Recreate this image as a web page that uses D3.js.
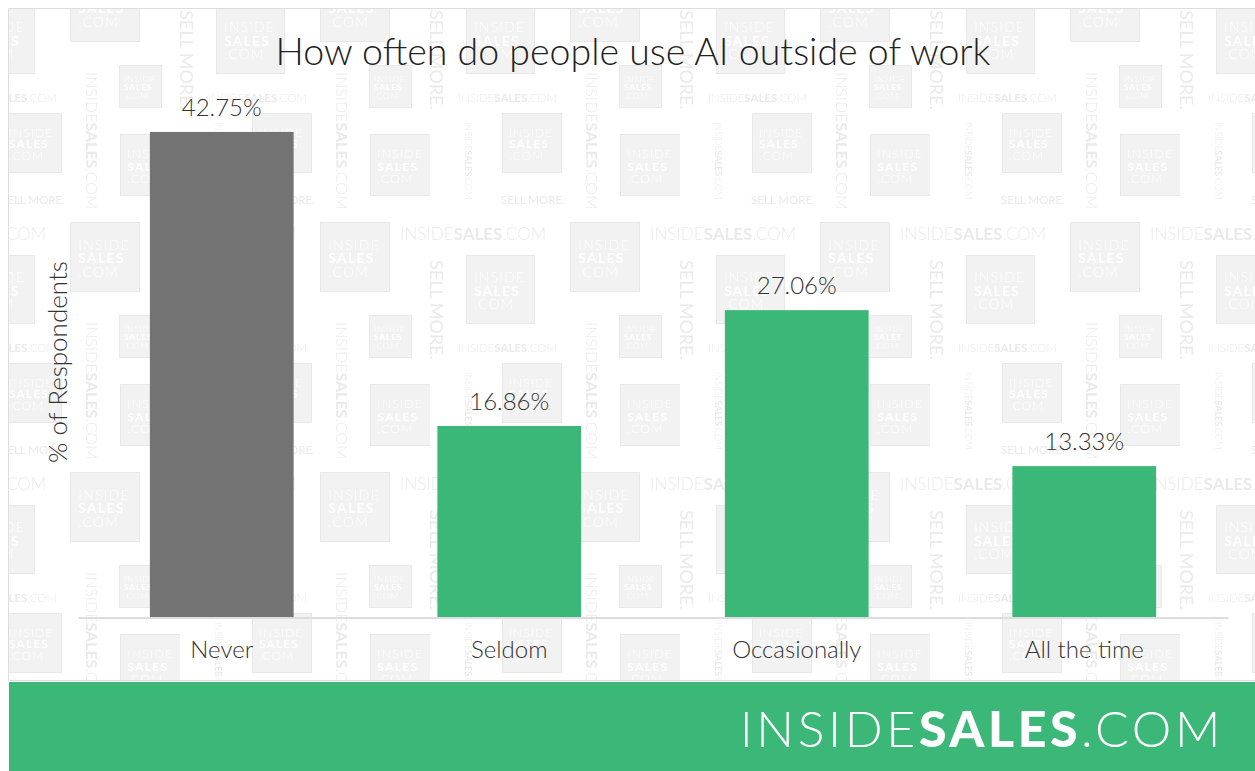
<!DOCTYPE html>
<html lang="en">
<head>
  <meta charset="UTF-8">
  <title>AI outside of work</title>
  <style>
    body { margin: 0; background: #fff; }
    svg { display: block; }
  </style>
</head>
<body>
  <svg width="1255" height="771"></svg>
  <script src="https://d3js.org/d3.v7.min.js"></script>
  <script>
    // chart data
    var categories = ["Never", "Seldom", "Occasionally", "All the time"];
    var values = [42.75, 16.86, 27.06, 13.33];
    var barColors = ["#737373", "#3bb878", "#3bb878", "#3bb878"];
    var titleText = "How often do people use AI outside of work";
    var yLabel = "% of Respondents";

    var svg = d3.select("svg"),
      W = 1255, H = 771;

    // watermark tile (background decoration)
    var defs = svg.append("defs");
    var tile = defs.append("pattern")
      .attr("id", "wm")
      .attr("patternUnits", "userSpaceOnUse")
      .attr("x", 180).attr("y", 0)
      .attr("width", 250).attr("height", 250);

    var wmGray = "#eaeaea";
    function box(x, y, s) {
      tile.append("rect")
        .attr("x", x + 0.5).attr("y", y + 0.5)
        .attr("width", s).attr("height", s)
        .attr("fill", "#f2f2f2").attr("stroke", "#e8e8e8");
      var fs = s * 0.2;
      var t = tile.append("g")
        .style("font-family", "Lato").style("font-size", fs + "px")
        .style("letter-spacing", (fs * 0.1) + "px")
        .attr("fill", "#ffffff");
      t.append("text").attr("x", x + s * 0.12).attr("y", y + s * 0.4)
        .style("font-weight", 300).text("INSIDE");
      t.append("text").attr("x", x + s * 0.12).attr("y", y + s * 0.6)
        .style("font-weight", 700).text("SALES");
      t.append("text").attr("x", x + s * 0.12).attr("y", y + s * 0.8)
        .style("font-weight", 300).text(".COM");
    }
    function word(x, y, size, rot, kind) {
      var t = tile.append("text")
        .attr("transform", "translate(" + x + "," + y + ")" + (rot ? "rotate(90)" : ""))
        .style("font-family", "Lato").style("font-size", size + "px")
        .attr("fill", wmGray);
      if (kind === "sell") {
        t.style("font-weight", 400).text("SELL MORE.");
      } else {
        t.append("tspan").style("font-weight", 300).text("INSIDE");
        t.append("tspan").style("font-weight", 700).text("SALES");
        t.append("tspan").style("font-weight", 300).text(".COM");
      }
    }
    box(36, 5, 68);
    box(140, 222, 69);
    box(140, -28, 69);
    box(189, 65, 42);
    box(72, 113, 59);
    box(190, 134, 61);
    word(0, 10, 18, true, "sell");
    word(28, 102, 11.5, false);
    word(156, 72, 16, true);
    word(35, 122, 9, true);
    word(71, 204, 11.5, false, "sell");
    word(220, 240, 17, false);
    word(-30, 240, 17, false);

    svg.append("rect")
      .attr("x", 9).attr("y", 9)
      .attr("width", W - 9).attr("height", 671)
      .attr("fill", "url(#wm)");
    svg.append("path")
      .attr("d", "M8.5," + 680 + "V8.5H" + W)
      .attr("fill", "none").attr("stroke", "#dddddd");
    svg.append("line")
      .attr("x1", 8).attr("x2", W).attr("y1", 680.5).attr("y2", 680.5)
      .attr("stroke", "#dddddd");

    // scales
    var x = d3.scaleBand()
      .domain(categories)
      .range([78, 1228])
      .paddingInner(0.5)
      .paddingOuter(0.25);
    var y = d3.scaleLinear()
      .domain([0, 45])
      .range([617.5, 106.4]);

    // bars
    svg.append("g")
      .selectAll("rect")
      .data(values)
      .enter()
      .append("rect")
      .attr("x", function (d, i) { return x(categories[i]); })
      .attr("y", function (d) { return y(d); })
      .attr("width", x.bandwidth())
      .attr("height", function (d) { return y(0) - y(d); })
      .attr("fill", function (d, i) { return barColors[i]; });

    // baseline + category labels
    var xAxis = svg.append("g")
      .attr("transform", "translate(0," + y(0) + ")")
      .call(d3.axisBottom(x).tickSize(0).tickPadding(23));
    xAxis.select(".domain")
      .attr("stroke", "#dddddd").attr("stroke-width", 2);
    xAxis.selectAll("text")
      .style("font-family", "Lato").style("font-weight", 300)
      .style("font-size", "24px").attr("fill", "#333333");

    // value labels
    svg.append("g")
      .selectAll("text")
      .data(values)
      .enter()
      .append("text")
      .attr("x", function (d, i) { return x(categories[i]) + x.bandwidth() / 2; })
      .attr("y", function (d) { return y(d) - 16; })
      .attr("text-anchor", "middle")
      .style("font-family", "Lato").style("font-weight", 300)
      .style("font-size", "24px").attr("fill", "#333333")
      .text(function (d) { return d.toFixed(2) + "%"; });

    // title
    svg.append("text")
      .attr("x", 633).attr("y", 65)
      .attr("text-anchor", "middle")
      .style("font-family", "Lato").style("font-weight", 300)
      .style("font-size", "37.5px").attr("fill", "#222222")
      .text(titleText);

    // y label
    svg.append("text")
      .attr("transform", "translate(67,362)rotate(-90)")
      .attr("text-anchor", "middle")
      .style("font-family", "Lato").style("font-weight", 300)
      .style("font-size", "26px").attr("fill", "#333333")
      .text(yLabel);

    // footer band with logo
    svg.append("rect")
      .attr("x", 9).attr("y", 682)
      .attr("width", W - 9).attr("height", H - 682)
      .attr("fill", "#3bb878");
    var logo = svg.append("text")
      .attr("x", 1224).attr("y", 747)
      .attr("text-anchor", "end")
      .style("font-family", "Lato")
      .style("font-size", "50px")
      .style("letter-spacing", "3.6px")
      .attr("fill", "#ffffff");
    logo.append("tspan").style("font-weight", 300).text("INSIDE");
    logo.append("tspan").style("font-weight", 900).text("SALES");
    logo.append("tspan").style("font-weight", 300).text(".COM");
  </script>
</body>
</html>
